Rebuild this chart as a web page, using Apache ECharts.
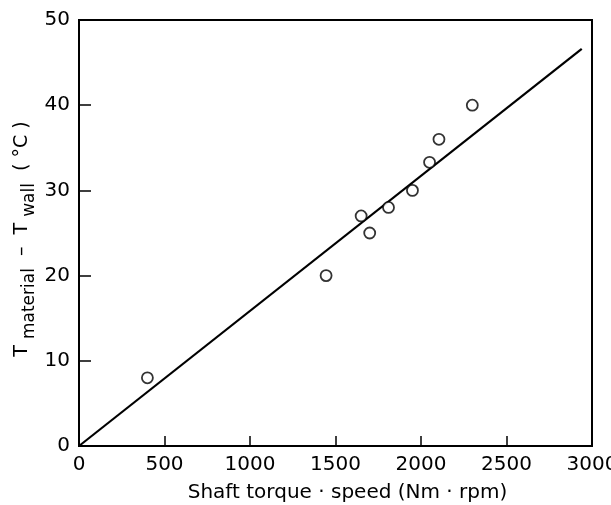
<!DOCTYPE html>
<html>
<head>
<meta charset="utf-8">
<script src="https://cdn.jsdelivr.net/npm/echarts@6/dist/echarts.min.js"></script>
<style>
  html, body { margin: 0; padding: 0; background: #fff; }
  #chart { width: 611px; height: 505px; }
</style>
</head>
<body>
<div id="chart"></div>
<script>
// measured points: shaft torque*speed vs temperature difference
var xPoints = [400, 1445, 1650, 1700, 1810, 1950, 2050, 2105, 2300];
var yPoints = [8, 20, 27, 25, 28, 30, 33.3, 36, 40];
// fitted line (end points)
var fitX = [0, 2940];
var fitY = [0, 46.6];

var xTicks = { min: 0, max: 3000, interval: 500 };
var yTicks = { min: 0, max: 50, interval: 10 };

var chart = echarts.init(document.getElementById('chart'));
var font = 'DejaVu Sans';

var scatterData = xPoints.map(function (x, i) { return [x, yPoints[i]]; });
var lineData = fitX.map(function (x, i) { return [x, fitY[i]]; });

chart.setOption({
    animation: false,
    grid: {
        left: 79,
        right: 19,
        top: 20,
        bottom: 59,
        outerBoundsMode: 'none',
        show: true,
        borderColor: '#000',
        borderWidth: 2
    },
    xAxis: {
        type: 'value',
        min: xTicks.min,
        max: xTicks.max,
        interval: xTicks.interval,
        splitLine: { show: false },
        axisLine: { show: true, lineStyle: { color: '#000', width: 2 } },
        axisTick: { show: true, inside: true, length: 10, lineStyle: { color: '#000', width: 1.5 } },
        axisLabel: {
            color: '#000', fontFamily: font, fontSize: 20, margin: 9,
            formatter: function (v) { return String(v); }
        },
        name: 'Shaft torque · speed (Nm · rpm)',
        nameLocation: 'middle',
        nameGap: 37,
        nameMoveOverlap: false,
        nameTextStyle: { color: '#000', fontFamily: font, fontSize: 20, padding: [0, 0, 0, 24] }
    },
    yAxis: {
        type: 'value',
        min: yTicks.min,
        max: yTicks.max,
        interval: yTicks.interval,
        splitLine: { show: false },
        axisLine: { show: true, lineStyle: { color: '#000', width: 2 } },
        axisTick: { show: true, inside: true, length: 12, lineStyle: { color: '#000', width: 1.5 } },
        axisLabel: { color: '#000', fontFamily: font, fontSize: 20, margin: 9 },
        name: '{T|T }{s|material}{T|  –  T }{s|wall}{T|  ( °C )}',
        nameLocation: 'middle',
        nameRotate: 90,
        nameGap: 41,
        nameMoveOverlap: false,
        nameTextStyle: {
            color: '#000',
            fontFamily: font,
            padding: [0, 0, 0, -12],
            rich: {
                T: { fontFamily: font, fontSize: 19, color: '#000', lineHeight: 25, verticalAlign: 'top' },
                s: { fontFamily: font, fontSize: 17, color: '#000', lineHeight: 17, verticalAlign: 'bottom' }
            }
        }
    },
    series: [
        {
            type: 'line',
            data: lineData,
            symbol: 'none',
            lineStyle: { color: '#000', width: 2.2 },
            z: 2
        },
        {
            type: 'scatter',
            data: scatterData,
            symbol: 'circle',
            symbolSize: 11,
            itemStyle: { color: '#fff', borderColor: '#000', borderWidth: 1.8 },
            z: 3
        }
    ]
});
</script>
</body>
</html>
